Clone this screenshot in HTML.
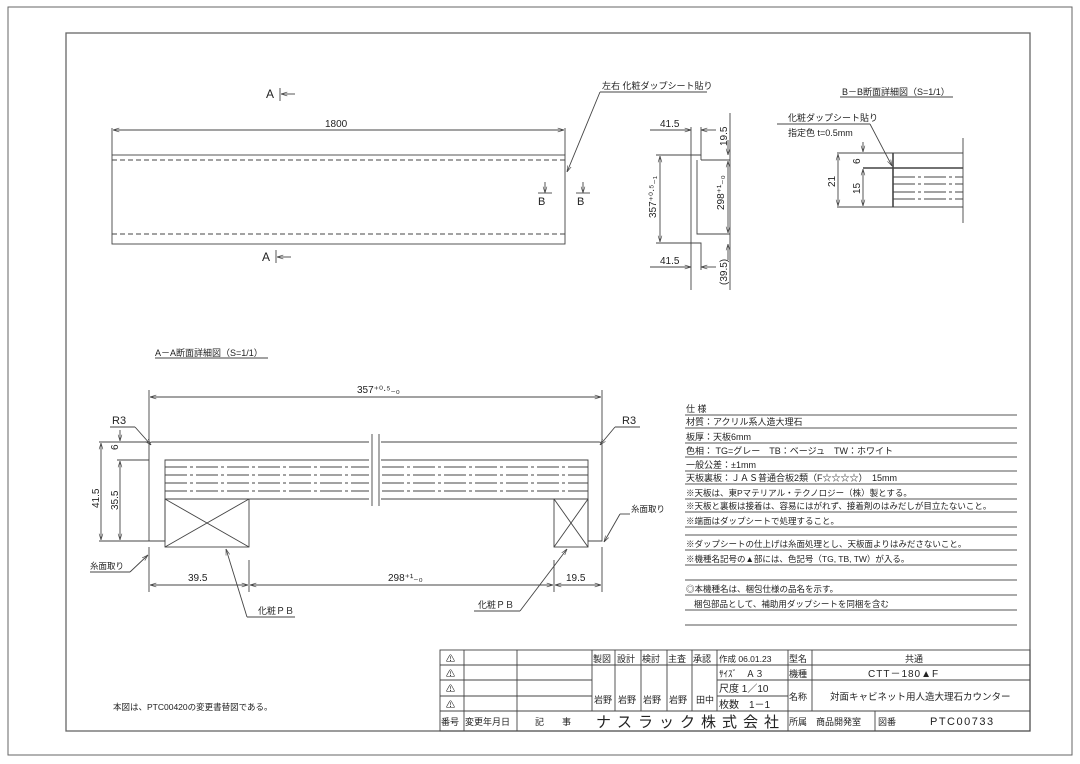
<!DOCTYPE html>
<html><head><meta charset="utf-8"><style>
html,body{margin:0;padding:0;background:#fff;}
svg{display:block;}
text{font-family:"Liberation Sans","Noto Sans CJK JP",sans-serif;fill:#222;}
.j{font-size:9px;}
</style></head><body>
<svg width="1080" height="764" viewBox="0 0 1080 764" xmlns="http://www.w3.org/2000/svg">
<defs>
<marker id="ar" viewBox="0 0 10 10" refX="10" refY="5" markerWidth="7" markerHeight="7" orient="auto-start-reverse"><path d="M0,2 L10,5 L0,8" fill="none" stroke="#444" stroke-width="1"/></marker>
</defs>
<g fill="none" stroke="#666" stroke-width="1">
<rect x="8" y="7" width="1064" height="748"/>
<rect x="66" y="33" width="964" height="698" stroke-width="1.3"/>
</g>
<g fill="none" stroke="#444" stroke-width="0.9">
<!-- plan view -->
<rect x="112" y="155" width="453" height="89"/>
<line x1="112" y1="160" x2="565" y2="160" stroke-dasharray="5,3"/>
<line x1="112" y1="234" x2="565" y2="234" stroke-dasharray="5,3"/>
<line x1="112" y1="128" x2="112" y2="155"/><line x1="565" y1="128" x2="565" y2="155"/>
<line x1="113" y1="130" x2="564" y2="130" marker-start="url(#ar)" marker-end="url(#ar)"/>
<line x1="280" y1="88" x2="280" y2="101"/><line x1="281" y1="94" x2="295" y2="94" marker-start="url(#ar)"/>
<line x1="276" y1="250" x2="276" y2="263"/><line x1="277" y1="257" x2="291" y2="257" marker-start="url(#ar)"/>
<line x1="538" y1="193" x2="552" y2="193"/><line x1="545" y1="182" x2="545" y2="193" marker-end="url(#ar)"/>
<line x1="576" y1="193" x2="590" y2="193"/><line x1="583" y1="182" x2="583" y2="193" marker-end="url(#ar)"/>
<polyline points="600,92 600,92 567,172" marker-end="url(#ar)"/>
<line x1="600" y1="92" x2="707" y2="92"/>
<!-- side view -->
<polyline points="691,127 691,290"/>
<polyline points="701,127 701,155 691,155"/>
<polyline points="701,160 730,160"/><polyline points="697,160 697,234 730,234"/>
<line x1="701" y1="155" x2="701" y2="160"/>
<polyline points="691,243 701,243 701,270"/>
<line x1="730" y1="113" x2="730" y2="290"/>
<line x1="650" y1="130" x2="691" y2="130" marker-end="url(#ar)"/><line x1="716" y1="130" x2="701" y2="130" marker-end="url(#ar)"/>
<line x1="650" y1="267" x2="691" y2="267" marker-end="url(#ar)"/><line x1="716" y1="267" x2="701" y2="267" marker-end="url(#ar)"/>
<line x1="656" y1="155" x2="691" y2="155"/><line x1="656" y1="243" x2="691" y2="243"/>
<line x1="660" y1="156" x2="660" y2="242" marker-start="url(#ar)" marker-end="url(#ar)"/>
<line x1="728" y1="140" x2="728" y2="155" marker-end="url(#ar)"/>
<line x1="728" y1="161" x2="728" y2="233" marker-start="url(#ar)" marker-end="url(#ar)"/>
<line x1="728" y1="260" x2="728" y2="244" marker-end="url(#ar)"/>
<!-- B-B -->
<line x1="777" y1="124" x2="870" y2="124"/><line x1="870" y1="124" x2="892" y2="166" marker-end="url(#ar)"/>
<line x1="837" y1="153" x2="963" y2="153"/>
<line x1="863" y1="168" x2="963" y2="168" stroke-width="1.4"/>
<line x1="837" y1="207" x2="963" y2="207"/>
<line x1="893" y1="153" x2="893" y2="207" stroke-width="1.6"/>
<line x1="963" y1="138" x2="963" y2="223"/>
<g stroke-dasharray="22,3,3,3"><line x1="893" y1="177" x2="963" y2="177"/><line x1="893" y1="184" x2="963" y2="184"/><line x1="893" y1="192" x2="963" y2="192"/><line x1="893" y1="199" x2="963" y2="199"/></g>
<line x1="838" y1="154" x2="838" y2="206" marker-start="url(#ar)" marker-end="url(#ar)"/>
<line x1="863" y1="142" x2="863" y2="152" marker-end="url(#ar)"/>
<line x1="863" y1="169" x2="863" y2="206" marker-start="url(#ar)" marker-end="url(#ar)"/>
<!-- A-A -->
<line x1="150" y1="397" x2="601" y2="397" marker-start="url(#ar)" marker-end="url(#ar)"/>
<line x1="149" y1="390" x2="149" y2="442"/><line x1="602" y1="390" x2="602" y2="442"/>
<path d="M152,442 H599 Q602,442 602,445 V541 H588 V460 H165 V541 H149 V445 Q149,442 152,442Z"/>
<line x1="165" y1="499" x2="588" y2="499"/>
<g stroke-dasharray="22,3,3,3"><line x1="165" y1="467" x2="588" y2="467"/><line x1="165" y1="475" x2="588" y2="475"/><line x1="165" y1="483" x2="588" y2="483"/><line x1="165" y1="491" x2="588" y2="491"/></g>
<rect x="369" y="432" width="12" height="76" fill="#fff" stroke="none"/>
<line x1="372" y1="434" x2="372" y2="506"/><line x1="379" y1="434" x2="379" y2="506"/>
<rect x="165" y="499" width="84" height="48"/><line x1="165" y1="499" x2="249" y2="547"/><line x1="249" y1="499" x2="165" y2="547"/>
<rect x="554" y="499" width="34" height="48"/><line x1="554" y1="499" x2="588" y2="547"/><line x1="588" y1="499" x2="554" y2="547"/>
<line x1="99" y1="442" x2="149" y2="442"/><line x1="117" y1="460" x2="149" y2="460"/><line x1="99" y1="541" x2="149" y2="541"/>
<line x1="101" y1="443" x2="101" y2="540" marker-start="url(#ar)" marker-end="url(#ar)"/>
<line x1="120" y1="461" x2="120" y2="540" marker-start="url(#ar)" marker-end="url(#ar)"/>
<line x1="120" y1="430" x2="120" y2="441" marker-end="url(#ar)"/>
<line x1="110" y1="427" x2="135" y2="427"/><line x1="135" y1="427" x2="151" y2="445" marker-end="url(#ar)"/>
<line x1="615" y1="427" x2="640" y2="427"/><line x1="615" y1="427" x2="600" y2="445" marker-end="url(#ar)"/>
<line x1="90" y1="572" x2="130" y2="572"/><line x1="130" y1="572" x2="148" y2="555" marker-end="url(#ar)"/>
<line x1="630" y1="514" x2="620" y2="514"/><line x1="620" y1="514" x2="604" y2="542" marker-end="url(#ar)"/>
<line x1="149" y1="547" x2="149" y2="592"/><line x1="602" y1="547" x2="602" y2="592"/>
<line x1="249" y1="560" x2="249" y2="592"/><line x1="554" y1="560" x2="554" y2="592"/>
<line x1="150" y1="585" x2="248" y2="585" marker-start="url(#ar)" marker-end="url(#ar)"/>
<line x1="250" y1="585" x2="553" y2="585" marker-start="url(#ar)" marker-end="url(#ar)"/>
<line x1="555" y1="585" x2="601" y2="585" marker-start="url(#ar)" marker-end="url(#ar)"/>
<line x1="247" y1="617" x2="295" y2="617"/><line x1="247" y1="617" x2="226" y2="549" marker-end="url(#ar)"/>
<line x1="474" y1="611" x2="520" y2="611"/><line x1="520" y1="611" x2="567" y2="549" marker-end="url(#ar)"/>
<line x1="155" y1="358" x2="268" y2="358"/>
<line x1="840" y1="97" x2="953" y2="97"/>
<!-- spec lines -->
<g stroke="#555">
<line x1="685" y1="415" x2="1017" y2="415"/><line x1="685" y1="428" x2="1017" y2="428"/><line x1="685" y1="443" x2="1017" y2="443"/><line x1="685" y1="457" x2="1017" y2="457"/><line x1="685" y1="471" x2="1017" y2="471"/><line x1="685" y1="484" x2="1017" y2="484"/><line x1="685" y1="499" x2="1017" y2="499"/><line x1="685" y1="512" x2="1017" y2="512"/><line x1="685" y1="527" x2="1017" y2="527"/><line x1="685" y1="535" x2="1017" y2="535"/>
<line x1="685" y1="550" x2="1017" y2="550"/><line x1="685" y1="565" x2="1017" y2="565"/><line x1="685" y1="580" x2="1017" y2="580"/><line x1="685" y1="595" x2="1017" y2="595"/><line x1="685" y1="610" x2="1017" y2="610"/><line x1="685" y1="625" x2="1017" y2="625"/>
</g>
<!-- title block -->
<rect x="440" y="650" width="590" height="81"/>
<line x1="440" y1="665" x2="592" y2="665"/><line x1="440" y1="680" x2="592" y2="680"/><line x1="440" y1="696" x2="592" y2="696"/><line x1="440" y1="711" x2="1030" y2="711"/>
<line x1="592" y1="665" x2="717" y2="665"/>
<line x1="717" y1="665" x2="1030" y2="665"/><line x1="717" y1="680" x2="1030" y2="680"/><line x1="717" y1="696" x2="788" y2="696"/>
<line x1="464" y1="650" x2="464" y2="731"/><line x1="517" y1="650" x2="517" y2="731"/><line x1="592" y1="650" x2="592" y2="711"/>
<line x1="615" y1="650" x2="615" y2="711"/><line x1="641" y1="650" x2="641" y2="711"/><line x1="667" y1="650" x2="667" y2="711"/><line x1="692" y1="650" x2="692" y2="711"/><line x1="717" y1="650" x2="717" y2="711"/>
<line x1="788" y1="650" x2="788" y2="731"/><line x1="812" y1="650" x2="812" y2="711"/><line x1="875" y1="711" x2="875" y2="731"/>
</g>
<g class="j">
<text x="266" y="98" font-size="12">A</text><text x="262" y="261" font-size="12">A</text>
<text x="538" y="205" font-size="11">B</text><text x="577" y="205" font-size="11">B</text>
<text x="325" y="127" font-size="10">1800</text>
<text x="602" y="89">左右 化粧ダップシート貼り</text>
<text x="660" y="127" font-size="10">41.5</text><text x="660" y="264" font-size="10">41.5</text>
<text transform="translate(727,146) rotate(-90)" font-size="10">19.5</text>
<text transform="translate(727,285) rotate(-90)" font-size="10">(39.5)</text>
<text transform="translate(724,210) rotate(-90)" font-size="10">298⁺¹₋₀</text>
<text transform="translate(656,218) rotate(-90)" font-size="10">357⁺⁰·⁵₋₁</text>
<text x="842" y="95">B－B断面詳細図（S=1/1）</text>
<text x="788" y="121">化粧ダップシート貼り</text>
<text x="788" y="136">指定色 t=0.5mm</text>
<text transform="translate(835,187) rotate(-90)" font-size="10">21</text>
<text transform="translate(860,164) rotate(-90)" font-size="10">6</text>
<text transform="translate(860,194) rotate(-90)" font-size="10">15</text>
<text x="155" y="356">A－A断面詳細図（S=1/1）</text>
<text x="357" y="393" font-size="10">357⁺⁰·⁵₋₀</text>
<text x="112" y="424" font-size="11">R3</text><text x="622" y="424" font-size="11">R3</text>
<text transform="translate(99,508) rotate(-90)" font-size="10">41.5</text>
<text transform="translate(118,510) rotate(-90)" font-size="10">35.5</text>
<text transform="translate(118,450) rotate(-90)" font-size="10">6</text>
<text x="90" y="569" font-size="8.5">糸面取り</text><text x="631" y="512" font-size="8.5">糸面取り</text>
<text x="188" y="581" font-size="10">39.5</text><text x="388" y="581" font-size="10">298⁺¹₋₀</text><text x="566" y="581" font-size="10">19.5</text>
<text x="258" y="614">化粧ＰＢ</text><text x="478" y="608">化粧ＰＢ</text>
<text x="686" y="412">仕 様</text>
<text x="686" y="425">材質：アクリル系人造大理石</text>
<text x="686" y="440">板厚：天板6mm</text>
<text x="686" y="454">色相： TG=グレー　TB：ベージュ　TW：ホワイト</text>
<text x="686" y="468">一般公差：±1mm</text>
<text x="686" y="481">天板裏板：ＪＡＳ普通合板2類（F☆☆☆☆）　15mm</text>
<text x="686" y="496" font-size="8.5">※天板は、東Pマテリアル・テクノロジー（株）製とする。</text>
<text x="686" y="509" font-size="8.5">※天板と裏板は接着は、容易にはがれず、接着剤のはみだしが目立たないこと。</text>
<text x="686" y="524" font-size="8.5">※端面はダップシートで処理すること。</text>
<text x="686" y="547" font-size="8.5">※ダップシートの仕上げは糸面処理とし、天板面よりはみださないこと。</text>
<text x="686" y="562" font-size="8.5">※機種名記号の▲部には、色記号（TG, TB, TW）が入る。</text>
<text x="686" y="592" font-size="8.5">◎本機種名は、梱包仕様の品名を示す。</text>
<text x="694" y="607" font-size="8.5">梱包部品として、補助用ダップシートを同梱を含む</text>
<text x="113" y="710" font-size="8.5">本図は、PTC00420の変更書替図である。</text>
<text x="446" y="662">⚠</text><text x="446" y="677">⚠</text><text x="446" y="692">⚠</text><text x="446" y="708">⚠</text>
<text x="441" y="725">番号</text><text x="465" y="725">変更年月日</text><text x="535" y="725">記　　事</text>
<text x="596" y="727" font-size="15" letter-spacing="6">ナスラック株式会社</text>
<text x="593" y="662">製図</text><text x="617" y="662">設計</text><text x="642" y="662">検討</text><text x="668" y="662">主査</text><text x="693" y="662">承認</text>
<text x="594" y="703">岩野</text><text x="618" y="703">岩野</text><text x="643" y="703">岩野</text><text x="669" y="703">岩野</text><text x="696" y="703">田中</text>
<text x="719" y="662" font-size="8.5">作成 06.01.23</text>
<text x="719" y="677" font-size="9">ｻｲｽﾞ　Ａ３</text>
<text x="719" y="692" font-size="10">尺度 1／10</text>
<text x="719" y="708" font-size="10">枚数　1－1</text>
<text x="789" y="662">型名</text><text x="789" y="677">機種</text><text x="789" y="700">名称</text>
<text x="905" y="662">共通</text>
<text x="868" y="677" font-size="10" letter-spacing="1">CTT－180▲F</text>
<text x="830" y="700" font-size="9.5">対面キャビネット用人造大理石カウンター</text>
<text x="789" y="725">所属</text><text x="816" y="725">商品開発室</text><text x="878" y="725">図番</text>
<text x="930" y="725" font-size="11" letter-spacing="1.5">PTC00733</text>
</g>
</svg>
</body></html>
